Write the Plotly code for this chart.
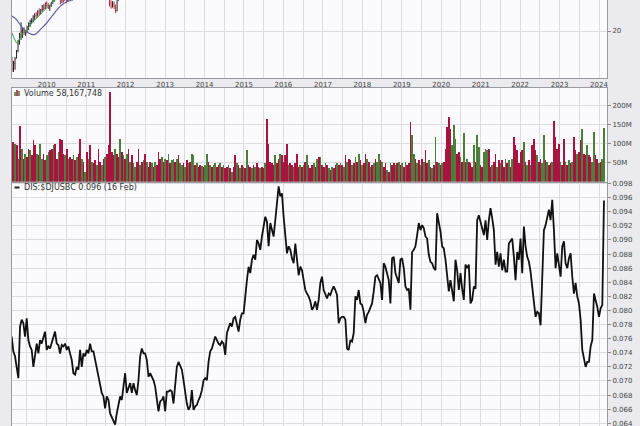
import pandas as pd
import plotly.graph_objects as go

FONT = "DejaVu Sans"

# ---------------- DIS:$DJUSBC ratio (sampled roughly every 15 days, Feb 2009 -> 16 Feb 2024)
ratio_2009_2016 = [
    0.0763, 0.0742, 0.0735, 0.0720, 0.0704, 0.0777, 0.0787, 0.0782, 0.0763, 0.0789,
    0.0758, 0.0749, 0.0744, 0.0720, 0.0739, 0.0753, 0.0739, 0.0758, 0.0753, 0.0763,
    0.0770, 0.0744, 0.0749, 0.0746, 0.0753, 0.0763, 0.0770, 0.0753, 0.0751, 0.0739,
    0.0751, 0.0749, 0.0753, 0.0744, 0.0749, 0.0739, 0.0730, 0.0711, 0.0709, 0.0720,
    0.0716, 0.0744, 0.0720, 0.0739, 0.0735, 0.0744, 0.0739, 0.0753, 0.0742, 0.0742,
    0.0730, 0.0716, 0.0706, 0.0692, 0.0683, 0.0678, 0.0661, 0.0678, 0.0673, 0.0654,
    0.0649, 0.0642, 0.0638, 0.0654, 0.0664, 0.0678, 0.0673, 0.0692, 0.0711, 0.0683,
    0.0692, 0.0697, 0.0683, 0.0697, 0.0687, 0.0680, 0.0701, 0.0735, 0.0746, 0.0739,
    0.0739, 0.0730, 0.0706, 0.0711, 0.0706, 0.0701, 0.0692, 0.0673, 0.0657, 0.0671,
    0.0673, 0.0678, 0.0657, 0.0685, 0.0685, 0.0687, 0.0685, 0.0668, 0.0697, 0.0720,
    0.0727, 0.0720, 0.0716, 0.0701, 0.0683, 0.0668, 0.0659, 0.0664, 0.0687, 0.0659,
    0.0664, 0.0666, 0.0673, 0.0678, 0.0687, 0.0701, 0.0704, 0.0701, 0.0727, 0.0742,
    0.0746, 0.0753, 0.0763, 0.0758, 0.0753, 0.0751, 0.0756, 0.0753, 0.0737, 0.0768,
    0.0777, 0.0782, 0.0777, 0.0789, 0.0791, 0.0782, 0.0770, 0.0787, 0.0796, 0.0796,
    0.0822, 0.0843, 0.0862, 0.0853, 0.0872, 0.0879, 0.0872, 0.0900, 0.0895, 0.0886,
    0.0905, 0.0919, 0.0933, 0.0926, 0.0891, 0.0924, 0.0914, 0.0905, 0.0928, 0.0957,
    0.0976, 0.0962, 0.0966, 0.0933, 0.0900, 0.0881, 0.0891, 0.0886, 0.0874, 0.0867,
    0.0895, 0.0872, 0.0850, 0.0862, 0.0857, 0.0843, 0.0829, 0.0824, 0.0820, 0.0813,
    0.0801, 0.0805, 0.0813, 0.0801, 0.0815, 0.0839,
]
ratio_2017_2024 = [
    0.0848, 0.0829, 0.0822, 0.0817, 0.0824, 0.0822, 0.0829, 0.0834, 0.0829, 0.0822,
    0.0782, 0.0789, 0.0791, 0.0791, 0.0787, 0.0746, 0.0744, 0.0758, 0.0756, 0.0768,
    0.0820, 0.0815, 0.0829, 0.0810, 0.0808, 0.0798, 0.0782, 0.0794, 0.0798, 0.0805,
    0.0810, 0.0827, 0.0848, 0.0850, 0.0843, 0.0839, 0.0815, 0.0867, 0.0862, 0.0853,
    0.0843, 0.0810, 0.0874, 0.0876, 0.0853, 0.0846, 0.0839, 0.0872, 0.0874, 0.0860,
    0.0834, 0.0829, 0.0831, 0.0801, 0.0883, 0.0886, 0.0891, 0.0907, 0.0924, 0.0914,
    0.0921, 0.0917, 0.0905, 0.0902, 0.0879, 0.0869, 0.0867, 0.0860, 0.0857, 0.0938,
    0.0924, 0.0912, 0.0891, 0.0888, 0.0872, 0.0846, 0.0827, 0.0843, 0.0829, 0.0813,
    0.0872, 0.0857, 0.0829, 0.0853, 0.0831, 0.0815, 0.0865, 0.0860, 0.0865, 0.0810,
    0.0815, 0.0834, 0.0831, 0.0928, 0.0935, 0.0926, 0.0919, 0.0907, 0.0928, 0.0900,
    0.0928, 0.0945, 0.0931, 0.0914, 0.0865, 0.0883, 0.0862, 0.0881, 0.0857, 0.0872,
    0.0855, 0.0855, 0.0895, 0.0898, 0.0902, 0.0876, 0.0843, 0.0883, 0.0872, 0.0902,
    0.0853, 0.0919, 0.0891, 0.0876, 0.0869, 0.0855, 0.0834, 0.0805, 0.0791, 0.0798,
    0.0796, 0.0779, 0.0843, 0.0914, 0.0921, 0.0933, 0.0943, 0.0928, 0.0957, 0.0914,
    0.0860, 0.0881, 0.0862, 0.0848, 0.0891, 0.0898, 0.0867, 0.0860, 0.0874, 0.0881,
    0.0848, 0.0824, 0.0839, 0.0820, 0.0810, 0.0787, 0.0744, 0.0730, 0.0720, 0.0727,
    0.0727, 0.0749, 0.0758, 0.0824, 0.0815, 0.0805, 0.0791, 0.0803, 0.0808, 0.0956,
]
series_start = "2009-02-10"
series_end = "2024-02-16"

# ---------------- volume (millions) on the same sample dates, with up (g) / down (r) flags
vol_2009_2012 = [
    105, 105, 100, 96, 61, 147, 87, 61, 74, 65, 87, 83, 70, 109, 96, 74, 70, 100, 61, 74,
    57, 70, 79, 83, 87, 96, 100, 61, 79, 113, 109, 74, 70, 87, 61, 65, 61, 70, 57, 65,
    74, 113, 61, 52, 26, 79, 61, 96, 52, 48, 57, 44, 87, 52, 44, 61, 65, 74, 96, 235,
    79, 70, 87, 74, 65, 113, 79, 70, 61, 74, 87, 52, 70, 48, 39, 52, 87, 44, 52, 57,
    74, 52, 39, 52, 48, 39, 52, 44, 79,
]
vol_2012_2016 = [
    61, 65, 52, 61, 57, 72, 48, 57, 61, 52, 61, 70, 48, 44, 48, 39, 57, 48, 52, 74,
    70, 44, 48, 39, 44, 42, 39, 44, 72, 52, 44, 39, 44, 48, 39, 44, 48, 39, 44, 35,
    39, 44, 35, 26, 39, 70, 48, 44, 35, 44, 39, 35, 83, 44, 39, 35, 44, 39, 48, 39,
    35, 39, 35, 48, 166, 100, 52, 48, 44, 70, 48, 61, 74, 70, 52, 70, 100, 44, 48, 44,
    39, 48, 74, 39, 44, 39, 44, 52, 70, 44, 35, 44, 48, 39, 61, 65,
]
vol_2017_2020 = [
    65, 44, 39, 48, 44, 35, 31, 39, 35, 44, 48, 44, 48, 44, 39, 70, 52, 61, 57, 44,
    48, 65, 52, 74, 57, 44, 48, 72, 61, 52, 39, 44, 48, 61, 52, 74, 57, 52, 39, 48,
    31, 26, 48, 44, 48, 44, 48, 52, 44, 48, 39, 52, 44, 48, 157, 122, 74, 61, 48, 57,
    44, 61, 52, 83, 48, 57, 39, 35, 44, 118, 52, 48, 44, 48, 52, 87, 144, 170, 140, 96,
    148, 113, 74, 79, 65, 52, 127, 52, 61, 52,
]
vol_2021_2024 = [
    48, 39, 96, 52, 122, 92, 44, 39, 79, 87, 83, 87, 39, 44, 52, 74, 39, 57, 48, 57,
    39, 61, 48, 57, 39, 61, 118, 96, 83, 48, 79, 83, 105, 52, 44, 57, 44, 96, 113, 83,
    70, 52, 61, 48, 122, 57, 52, 44, 48, 52, 161, 118, 87, 100, 52, 44, 113, 52, 44, 57,
    48, 52, 118, 83, 74, 79, 109, 140, 74, 70, 96, 70, 65, 52, 131, 70, 61, 48, 52, 61,
    141,
]
updown_2009_2012 = ("rrgrgrgrgr" "rgrrrgrggr" "rggrrgrrgr" "rrgrgrrgrg" "rrgrgrgrgr"
                    "rgrrgrgrrr" "rrgrrgrgrg" "rgrggrrgrg" "rgrrgrgrr")
updown_2012_2016 = ("rgrgrgrggr" "grggrgrgrg" "grgrrgrggr" "grggrrgrgr" "rgrgrrgrgr"
                    "grgrrgrgrr" "grrgrrrrrg" "rrgrrrrgrr" "grrrgrgrgr" "rrgrgr")
updown_2017_2020 = ("grrgrgrgrr" "grgrgrgrrg" "rgrgrgrrgr" "grgrggrgrr" "grgrrgrgrg"
                    "rgrrrggrgr" "grgrrgrgrg" "rgrgrrrrrg" "ggrrgrgrgr")
updown_2021_2024 = ("rrgrggrrgg" "grrgrrgrgr" "rgrgrgrrrr" "rrgrgrgrrr" "grrggrgrrg"
                    "rrrrgrrgrg" "rgrrgrrgrr" "grrggrrgrg" "g")

# ---------------- DIS price (visible part only), bi-weekly OHLC
price_2009_start = "2009-02-13"
open_2009 = [14.8, 13.4, 14.2, 15.0, 16.2, 17.9, 19.2, 19.8, 20.1, 19.6,
             19.9, 20.9, 21.6, 22.1, 22.4, 23.2, 23.6, 23.4, 24.6, 24.0,
             25.0, 26.0, 25.4, 26.7, 26.2, 25.6, 26.0, 27.0, 27.8, 28.5,
             29.2, 30.1, 29.6, 28.0, 28.9, 27.6, 29.0, 27.4, 29.1, 30.0,
             28.4, 29.2, 30.3, 31.5]
high_2009 = [15.2, 14.6, 15.2, 16.4, 18.2, 19.6, 21.9, 20.6, 20.8, 20.2,
             21.1, 21.9, 22.5, 22.9, 23.6, 24.1, 24.4, 24.9, 25.4, 25.2,
             26.3, 26.5, 27.0, 27.3, 26.8, 26.3, 27.2, 28.0, 28.8, 29.5,
             30.5, 31.5, 30.5, 29.5, 29.0, 29.5, 29.2, 29.5, 30.5, 30.2,
             29.5, 30.5, 31.8, 32.5]
low_2009 = [13.0, 13.0, 13.3, 15.0, 16.0, 17.3, 18.2, 18.6, 19.2, 19.0,
            19.6, 20.2, 20.9, 21.5, 21.9, 22.5, 22.9, 23.3, 23.6, 23.9,
            24.5, 24.9, 25.2, 25.8, 25.2, 24.7, 25.8, 26.6, 27.2, 27.8,
            28.6, 29.2, 26.5, 26.8, 27.0, 27.6, 26.8, 27.4, 28.3, 27.8,
            27.6, 28.5, 29.8, 30.6]
close_2009 = [13.4, 14.2, 15.0, 16.2, 17.9, 19.2, 19.8, 20.1, 19.6, 19.9,
              20.9, 21.6, 22.1, 22.4, 23.2, 23.6, 23.4, 24.6, 24.0, 25.0,
              26.0, 25.4, 26.7, 26.2, 25.6, 26.0, 27.0, 27.8, 28.5, 29.2,
              30.1, 29.6, 28.0, 28.9, 27.6, 29.0, 27.4, 29.1, 30.0, 28.4,
              29.2, 30.3, 31.5, 32.0]
price_2011_start = "2011-07-22"
open_2011 = [31.5, 30.5, 26.8, 25.8, 26.4, 25.9, 24.8, 27.8]
high_2011 = [32.0, 30.8, 27.6, 27.4, 27.3, 26.4, 28.2, 30.5]
low_2011 = [30.0, 25.9, 25.3, 25.6, 25.2, 24.2, 24.6, 27.5]
close_2011 = [30.5, 26.8, 25.8, 26.4, 25.9, 24.8, 27.8, 30.2]

ma_fast_dates = ["2009-02-13", "2009-03-12", "2009-04-01", "2009-04-28", "2009-05-29",
                 "2009-06-29", "2009-08-14", "2009-09-30", "2009-11-15", "2010-01-01",
                 "2010-02-16", "2010-03-18", "2010-06-01", "2010-09-01"]
ma_fast = [19.6, 18.2, 17.6, 18.6, 19.6, 20.2, 21.8, 22.9, 24.2, 25.5, 26.9, 27.7, 29.0, 29.5]
ma_slow_dates = ["2009-02-13", "2009-03-28", "2009-05-14", "2009-06-29", "2009-08-14",
                 "2009-09-14", "2009-10-15", "2009-11-15", "2010-01-01", "2010-02-16",
                 "2010-04-03", "2010-05-19", "2010-07-04", "2010-08-19", "2010-10-01",
                 "2011-01-01"]
ma_slow = [23.4, 22.5, 20.9, 19.85, 19.3, 19.3, 19.85, 20.6, 21.8, 23.3, 24.9, 26.3, 27.2,
           27.7, 28.6, 30.5]

years = list(range(2010, 2025))
price_ticks = [20]
volume_ticks = [50, 100, 150, 200]
ratio_ticks = [0.064, 0.066, 0.068, 0.070, 0.072, 0.074, 0.076, 0.078, 0.080, 0.082,
               0.084, 0.086, 0.088, 0.090, 0.092, 0.094, 0.096, 0.098]
ratio_label = "DIS:$DJUSBC 0.096 (16 Feb)"
volume_label = "Volume 58,167,748"

# ---------------- build
ratio = ratio_2009_2016 + ratio_2017_2024
volume = vol_2009_2012 + vol_2012_2016 + vol_2017_2020 + vol_2021_2024
updown = updown_2009_2012 + updown_2012_2016 + updown_2017_2020 + updown_2021_2024
dates = pd.date_range(series_start, series_end, periods=len(ratio))
RED, GREEN = "#a8133f", "#4c7d3a"
bar_colors = [GREEN if c == "g" else RED for c in updown]

d2009 = pd.date_range(price_2009_start, periods=len(open_2009), freq="14D")
d2011 = pd.date_range(price_2011_start, periods=len(open_2011), freq="14D")

fig = go.Figure()
ohlc_style = dict(increasing_line_color="#222222", decreasing_line_color="#c0283c",
                  line_width=1, showlegend=False, xaxis="x", yaxis="y", hoverinfo="skip")
fig.add_trace(go.Ohlc(x=d2009, open=open_2009, high=high_2009, low=low_2009,
                      close=close_2009, **ohlc_style))
fig.add_trace(go.Ohlc(x=d2011, open=open_2011, high=high_2011, low=low_2011,
                      close=close_2011, **ohlc_style))
fig.add_trace(go.Scatter(x=pd.to_datetime(ma_slow_dates), y=ma_slow, mode="lines",
                         line=dict(color="#5d5da3", width=1.2, shape="spline"),
                         xaxis="x", yaxis="y", showlegend=False))
fig.add_trace(go.Scatter(x=pd.to_datetime(ma_fast_dates), y=ma_fast, mode="lines",
                         line=dict(color="#3f9a3f", width=1, shape="spline"),
                         xaxis="x", yaxis="y", showlegend=False))
fig.add_trace(go.Bar(x=dates, y=[v * 1e6 for v in volume], marker_color=bar_colors,
                     marker_line_width=0, xaxis="x2", yaxis="y2", showlegend=False))
fig.add_trace(go.Scatter(x=dates, y=ratio, mode="lines",
                         line=dict(color="#111111", width=1.8),
                         xaxis="x3", yaxis="y3", showlegend=False))

grid_dates = []
grid_text = []
for y in range(2009, 2025):
    for m, lab in (("01", str(y)), ("07", "")):
        d = f"{y}-{m}-01"
        if pd.Timestamp("2009-03-01") < pd.Timestamp(d) < pd.Timestamp("2024-03-10"):
            grid_dates.append(d)
            grid_text.append(lab if y in years else "")

W, H = 640, 426
x_range = ["2009-02-13", "2024-03-15"]
GRID = "#dcdce2"
LINE = "#9a9aa2"
tickfont = dict(family=FONT, size=7, color="#444444")

common_x = dict(type="date", range=x_range, tickvals=grid_dates, showgrid=True,
                gridcolor=GRID, gridwidth=1, showline=True, mirror=True,
                linecolor=LINE, linewidth=1, ticks="", zeroline=False)
common_y = dict(side="right", showgrid=True, gridcolor=GRID, gridwidth=1, showline=True,
                mirror=True, linecolor=LINE, linewidth=1, ticks="outside", ticklen=3,
                tickcolor="#888888", tickfont=tickfont, zeroline=False, automargin=False,
                ticklabeloverflow="allow")

def ydom(top_px, bot_px):
    return [(H - bot_px) / H, (H - top_px) / H]

fig.update_layout(
    width=W, height=H,
    margin=dict(l=12, r=33, t=0, b=0),
    paper_bgcolor="#ebebef",
    plot_bgcolor="#fbfbfd",
    bargap=0,
    showlegend=False,
    xaxis=dict(**common_x, anchor="y", ticktext=grid_text, showticklabels=True,
               tickfont=tickfont, rangeslider=dict(visible=False)),
    xaxis2=dict(**common_x, anchor="y2", matches="x", showticklabels=False),
    xaxis3=dict(**common_x, anchor="y3", matches="x", showticklabels=False),
    yaxis=dict(**common_y, domain=ydom(0, 78), type="log",
               range=[1.08613, 1.44278], tickvals=price_ticks,
               ticktext=[str(v) for v in price_ticks]),
    yaxis2=dict(**common_y, domain=ydom(88, 181.7), range=[0, 246.6e6],
                tickvals=[v * 1e6 for v in volume_ticks],
                ticktext=[f"{v}M" for v in volume_ticks]),
    yaxis3=dict(**common_y, domain=ydom(182.5, 426), range=[0.063613, 0.098151],
                tickvals=ratio_ticks, ticktext=[f"{v:.3f}" for v in ratio_ticks]),
)

PW = W - 12 - 33

def px(xp):
    return (xp - 12) / PW

def py(yp):
    return (H - yp) / H

labfont = dict(family=FONT, size=8, color="#333333")
fig.add_annotation(xref="paper", yref="paper", x=px(21.5), y=py(93), text=volume_label,
                   showarrow=False, xanchor="left", yanchor="middle", font=labfont)
fig.add_annotation(xref="paper", yref="paper", x=px(21.5), y=py(187.5), text=ratio_label,
                   showarrow=False, xanchor="left", yanchor="middle", font=labfont)
# legend marker for the ratio line
fig.add_shape(type="line", xref="paper", yref="paper", x0=px(14.5), x1=px(19.5),
              y0=py(187.5), y1=py(187.5), line=dict(color="#222222", width=2))
# little volume icon
for x0, hgt, col in ((14.2, 4, GREEN), (16.2, 6, RED), (18.2, 5, GREEN)):
    fig.add_shape(type="rect", xref="paper", yref="paper", x0=px(x0), x1=px(x0 + 1.6),
                  y0=py(96), y1=py(96 - hgt), line_width=0, fillcolor=col)

fig.write_html("out.html",
               config={"displayModeBar": False, "staticPlot": True},
               post_script="document.body.style.margin='0';"
                           "document.body.style.overflow='hidden';")
